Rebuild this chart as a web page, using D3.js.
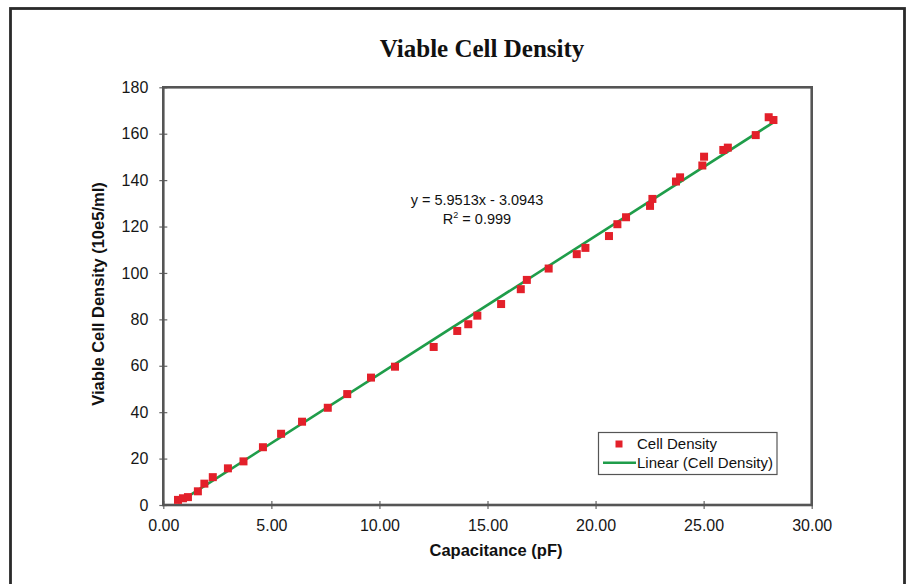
<!DOCTYPE html>
<html>
  <head>
    <meta charset="utf-8">
    <title>Viable Cell Density</title>
    <style>
      body { margin: 0; background: #fff; overflow: hidden; }
      svg { display: block; font-family: "Liberation Sans", Arial, sans-serif; }
    </style>
    <script src="https://d3js.org/d3.v7.min.js"></script>
  </head>
  <body>
    <svg width="909" height="584"></svg>
    <script>
      // values
      const capacitance = [0.68, 0.91, 1.14, 1.60, 1.90, 2.29, 2.99, 3.71, 4.61, 5.45,
        6.42, 7.61, 8.51, 9.61, 10.72, 12.51, 13.60, 14.11, 14.53, 15.63,
        16.54, 16.82, 17.83, 19.13, 19.53, 20.62, 21.01, 21.41, 22.52, 22.63,
        23.72, 23.91, 24.94, 25.02, 25.91, 26.12, 27.41, 28.01, 28.23];
      const density = [2.2, 2.9, 3.4, 5.9, 9.2, 12.0, 15.8, 18.8, 24.9, 30.7,
        35.9, 41.9, 47.8, 54.9, 59.6, 68.1, 75.0, 77.9, 81.6, 86.6,
        93.0, 97.0, 101.9, 108.1, 110.8, 115.9, 121.0, 124.0, 128.9, 131.9,
        139.4, 141.2, 146.3, 150.1, 153.0, 154.0, 159.4, 167.1, 165.9];
      const slope = 5.9513, intercept = -3.0943;
      const xTicks = [0, 5, 10, 15, 20, 25, 30];
      const yTicks = [0, 20, 40, 60, 80, 100, 120, 140, 160, 180];

      const svg = d3.select('svg');
      const margin = { left: 163.3, right: 97.3, top: 87.3, bottom: 79 };
      const width = +svg.attr('width'), height = +svg.attr('height');

      const x = d3.scaleLinear().domain([0, 30]).range([margin.left, width - margin.right]);
      const y = d3.scaleLinear().domain([0, 180]).range([height - margin.bottom, margin.top]);

      const points = capacitance.map((c, i) => ({ c, d: density[i] }));

      // outer frame
      svg.append('rect')
        .attr('x', 10.5).attr('y', 8.5)
        .attr('width', 894).attr('height', 620)
        .attr('fill', 'none').attr('stroke', '#2a2a2a').attr('stroke-width', 2.8);

      svg.append('text')
        .attr('x', 482).attr('y', 57)
        .attr('text-anchor', 'middle')
        .style('font-family', '"Liberation Serif", "Times New Roman", serif')
        .style('font-weight', 'bold').style('font-size', '25px')
        .attr('fill', '#111')
        .text('Viable Cell Density');

      // axes
      const xAxis = svg.append('g')
        .attr('transform', `translate(0,${y(0)})`)
        .call(d3.axisBottom(x).tickValues(xTicks).tickFormat(d3.format('.2f'))
          .tickSize(4).tickSizeOuter(0).tickPadding(11));
      xAxis.selectAll('.tick line').attr('y1', -4);

      const yAxis = svg.append('g')
        .attr('transform', `translate(${x(0)},0)`)
        .call(d3.axisLeft(y).tickValues(yTicks).tickSize(4).tickSizeOuter(0).tickPadding(11));
      yAxis.selectAll('.tick line').attr('x1', 4);

      [xAxis, yAxis].forEach(g => {
        g.select('.domain').remove();
        g.selectAll('.tick line').attr('stroke', '#666').attr('stroke-width', 1.2);
        g.selectAll('.tick text').attr('fill', '#161616')
          .style('font-size', '16px').style('font-family', '"Liberation Sans", Arial, sans-serif');
      });

      // plot frame
      svg.append('rect')
        .attr('x', x(0)).attr('y', y(180))
        .attr('width', x(30) - x(0)).attr('height', y(0) - y(180))
        .attr('fill', 'none').attr('stroke', '#555').attr('stroke-width', 2.6);

      // trend line
      const ext = d3.extent(capacitance);
      svg.append('path')
        .datum(ext.map(c => ({ c, d: slope * c + intercept })))
        .attr('fill', 'none').attr('stroke', '#1f9d4a').attr('stroke-width', 2.6)
        .attr('d', d3.line().x(p => x(p.c)).y(p => y(p.d)));

      // markers
      const sz = 8;
      svg.append('g').selectAll('rect')
        .data(points).join('rect')
        .attr('x', p => x(p.c) - sz / 2).attr('y', p => y(p.d) - sz / 2)
        .attr('width', sz).attr('height', sz)
        .attr('fill', '#e3202a');

      // equation
      svg.append('text')
        .attr('x', 477).attr('y', 205)
        .attr('text-anchor', 'middle').style('font-size', '14.5px').attr('fill', '#111')
        .text(`y = ${slope}x - ${Math.abs(intercept)}`);
      const r2 = svg.append('text')
        .attr('x', 477).attr('y', 223.5)
        .attr('text-anchor', 'middle').style('font-size', '14.5px').attr('fill', '#111');
      r2.append('tspan').text('R');
      r2.append('tspan').attr('dy', -6).style('font-size', '9px').text('2');
      r2.append('tspan').attr('dy', 6).text(' = 0.999');

      // axis titles
      svg.append('text')
        .attr('x', 496).attr('y', 556)
        .attr('text-anchor', 'middle')
        .style('font-weight', 'bold').style('font-size', '16.5px').attr('fill', '#111')
        .text('Capacitance (pF)');
      svg.append('text')
        .attr('transform', 'translate(104,294) rotate(-90)')
        .attr('text-anchor', 'middle')
        .style('font-weight', 'bold').style('font-size', '16.5px').attr('fill', '#111')
        .text('Viable Cell Density (10e5/ml)');

      // legend
      const lg = svg.append('g');
      lg.append('rect')
        .attr('x', 598.5).attr('y', 432.5).attr('width', 178.5).attr('height', 42)
        .attr('fill', '#fff').attr('stroke', '#555').attr('stroke-width', 1.2);
      lg.append('rect')
        .attr('x', 615.5).attr('y', 440.5).attr('width', 7).attr('height', 7)
        .attr('fill', '#e3202a');
      lg.append('line')
        .attr('x1', 603).attr('x2', 636).attr('y1', 462.7).attr('y2', 462.7)
        .attr('stroke', '#1f9d4a').attr('stroke-width', 2.6);
      lg.append('text').attr('x', 637).attr('y', 448.5)
        .style('font-size', '15px').attr('fill', '#111').text('Cell Density');
      lg.append('text').attr('x', 637).attr('y', 467.5)
        .style('font-size', '15px').attr('fill', '#111').text('Linear (Cell Density)');
    </script>
  </body>
</html>
